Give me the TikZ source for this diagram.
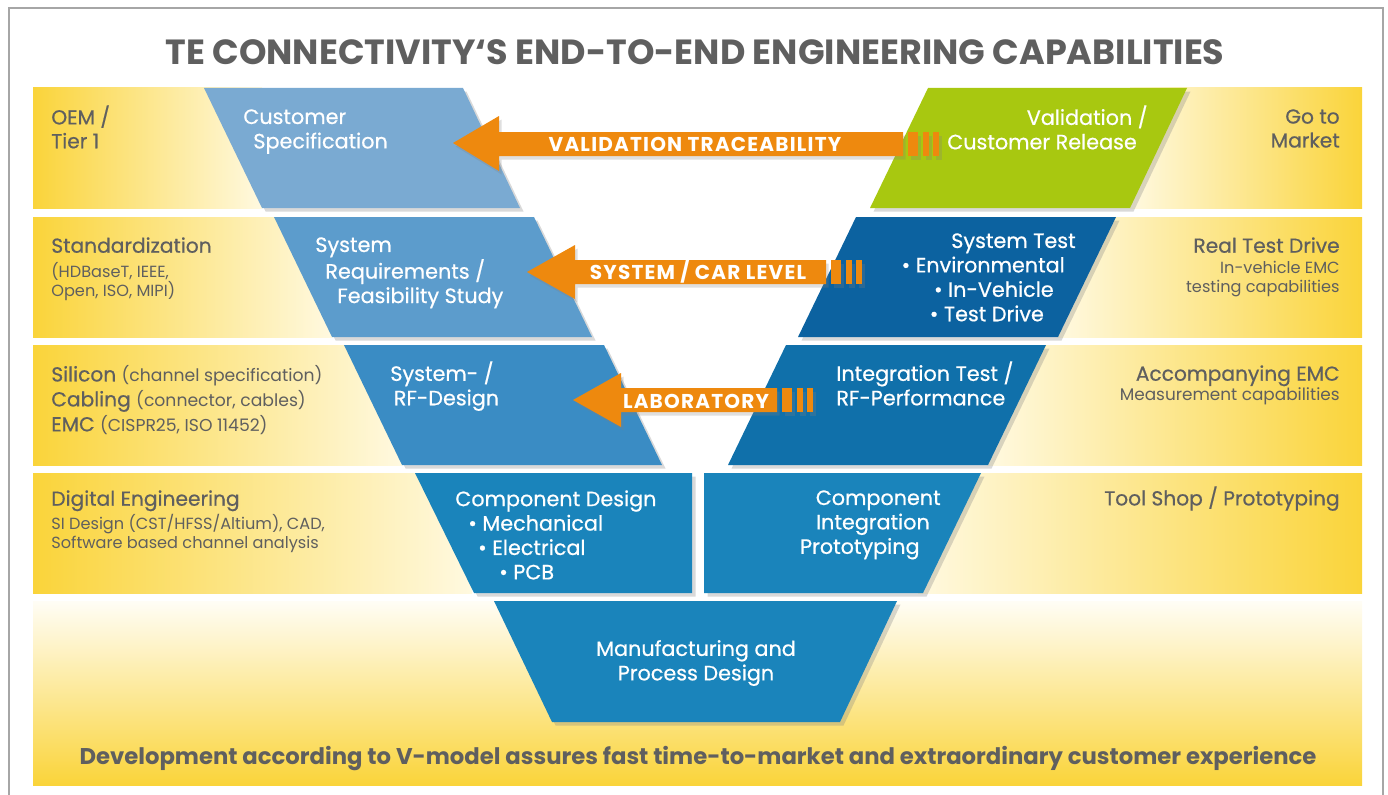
\documentclass[tikz,border=0pt]{standalone}
\usepackage{fontspec}
\setmainfont{Poppins}
\usetikzlibrary{shadows}

\definecolor{tegrey}{RGB}{95,95,95}
\definecolor{bandyellow}{RGB}{250,212,58}
\definecolor{bandpale}{RGB}{255,249,224}
\definecolor{arroworange}{RGB}{238,137,14}
\definecolor{relgreen}{RGB}{168,200,16}
\definecolor{specblue}{RGB}{122,170,210}
\definecolor{reqblue}{RGB}{92,156,204}
\definecolor{rfblue}{RGB}{58,140,196}
\definecolor{compblue}{RGB}{26,132,187}
\definecolor{testblue}{RGB}{12,98,160}
\definecolor{intblue}{RGB}{16,112,170}

\begin{document}
\begin{tikzpicture}[x=0.02cm,y=-0.02cm,
    box/.style={drop shadow={shadow xshift=2pt,shadow yshift=-2pt,opacity=0.3}},
    arrowfill/.style={fill=arroworange,drop shadow={shadow xshift=1.5pt,shadow yshift=-2pt,opacity=0.25}},
    intext/.style={text=white,inner sep=0pt,font=\fontsize{11.8}{13.9}\selectfont\addfontfeatures{FakeBold=0.6}},
    arrowtext/.style={text=white,inner sep=0pt,font=\bfseries\fontsize{11.4}{13}\selectfont\addfontfeatures{LetterSpace=6}},
    sidehead/.style={text=tegrey,inner sep=0pt,font=\fontsize{11.5}{13.6}\selectfont\addfontfeatures{FakeBold=0.6}},
    sidesub/.style={text=tegrey,inner sep=0pt,font=\fontsize{9.2}{11}\selectfont}]
  \useasboundingbox (0,0) rectangle (1388,794);
  \draw[gray!70,line width=1pt] (9,810) -- (9,8) -- (1383,8) -- (1383,810);

  \node[text=tegrey,font=\bfseries\fontsize{19.9}{22}\selectfont] (title) at (695,52)
    {TE CONNECTIVITY‘S END-TO-END ENGINEERING CAPABILITIES};

  % yellow bands, fading towards the V
  \foreach \t/\b/\l/\r in {88/208/262/1130,217/337/332/1058,345/465/402/988,473/593/472/918}{
    \shade[left color=bandyellow,right color=bandpale] (33,\t) rectangle (\l,\b);
    \shade[left color=bandpale,right color=bandyellow] (\r,\t) rectangle (1362,\b);
  }
  \shade[top color=bandpale!30!white,bottom color=bandyellow] (33,601) rectangle (1362,785);

  % left leg
  \fill[specblue,box] (204,88) -- (463,88) -- (520,208) -- (262,208) -- cycle;
  \fill[reqblue,box] (274,217) -- (534,217) -- (592,337) -- (332,337) -- cycle;
  \fill[rfblue,box] (344,345) -- (604,345) -- (662,465) -- (402,465) -- cycle;
  \fill[compblue,box] (415,473) -- (692,473) -- (692,593) -- (474,593) -- cycle;
  % right leg
  \fill[relgreen,box] (928,88) -- (1187,88) -- (1130,208) -- (870,208) -- cycle;
  \fill[testblue,box] (856,217) -- (1116,217) -- (1058,337) -- (798,337) -- cycle;
  \fill[intblue,box] (786,345) -- (1046,345) -- (988,465) -- (728,465) -- cycle;
  \fill[compblue,box] (704,473) -- (981,473) -- (923,593) -- (704,593) -- cycle;
  % bottom
  \fill[compblue,box] (494,601) -- (897,601) -- (840,722) -- (552,722) -- cycle;

  \node[intext,anchor=north west,align=left] (spec) at (243,109)
    {Customer\\\hspace*{5.7pt}Specification};
  \node[intext,anchor=north west,align=left] (req) at (315,237)
    {System\\\hspace*{5.7pt}Requirements /\\\hspace*{12.5pt}Feasibility Study};
  \node[intext,anchor=north west,align=left] (rf) at (390,361)
    {System- /\\\hspace*{2pt}RF-Design};
  \node[intext,anchor=north west,align=left] (comp) at (455,490)
    {Component Design\\\hspace*{7.4pt}• Mechanical\\\hspace*{13pt}• Electrical\\\hspace*{25pt}• PCB};
  \node[intext,anchor=north east,align=right] (release) at (1148,105)
    {Validation /\\Customer Release\rule{6.2pt}{0pt}};
  \node[intext,anchor=north east,align=right] (systest) at (1076,233)
    {System Test\\• Environmental\rule{6.2pt}{0pt}\\• In-Vehicle\rule{12.5pt}{0pt}\\• Test Drive\rule{18.1pt}{0pt}};
  \node[intext,anchor=north west,align=left] (inttest) at (836,361)
    {Integration Test /\\RF-Performance};
  \node[intext,anchor=north east,align=right] (compint) at (941,490)
    {Component\\Integration\rule{6.2pt}{0pt}\\Prototyping\rule{12pt}{0pt}};
  \node[intext,align=center] (manuf) at (696,663)
    {Manufacturing and\\Process Design};

  % orange traceability arrows
  \fill[arrowfill] (453,143) -- (499,116) -- (499,132) -- (903,132) -- (903,156) -- (499,156) -- (499,171) -- cycle;
  \foreach \a/\b in {908/918,923/929,933/939} \fill[arrowfill] (\a,132) rectangle (\b,156);
  \fill[arrowfill] (527,272) -- (575,245) -- (575,260) -- (826,260) -- (826,284) -- (575,284) -- (575,299) -- cycle;
  \foreach \a/\b in {831/841,846/852,856/862} \fill[arrowfill] (\a,260) rectangle (\b,284);
  \fill[arrowfill] (573,400) -- (621,373) -- (621,388) -- (777,388) -- (777,412) -- (621,412) -- (621,427) -- cycle;
  \foreach \a/\b in {782/792,797/803,807/813} \fill[arrowfill] (\a,388) rectangle (\b,412);
  \node[arrowtext] (trace) at (695,144) {VALIDATION TRACEABILITY};
  \node[arrowtext] (car) at (698,272) {SYSTEM / CAR LEVEL};
  \node[arrowtext] (lab) at (696,401) {LABORATORY};

  % side captions
  \node[sidehead,anchor=north west,align=left] (oem) at (51,105) {OEM /\\Tier 1};
  \node[sidehead,anchor=north west] (std) at (51,237) {Standardization};
  \node[sidesub,anchor=north west,align=left] (stdsub) at (51,262)
    {(HDBaseT, IEEE,\\Open, ISO, MIPI)};
  \node[sidehead,anchor=north west,align=left,font=\fontsize{11.5}{14.2}\selectfont] (silicon) at (51,365)
    {{\addfontfeatures{FakeBold=0.6}Silicon} {\fontsize{9.8}{14.2}\selectfont(channel specification)}\\
     {\addfontfeatures{FakeBold=0.6}Cabling} {\fontsize{9.8}{14.2}\selectfont(connector, cables)}\\
     {\addfontfeatures{FakeBold=0.6}EMC} {\fontsize{9.8}{14.2}\selectfont(CISPR25, ISO 11452)}};
  \node[sidehead,anchor=north west] (digital) at (51,490) {Digital Engineering};
  \node[sidesub,anchor=north west,align=left] (digsub) at (51,514)
    {SI Design (CST/HFSS/Altium), CAD,\\Software based channel analysis};

  \node[sidehead,anchor=north east,align=right] (market) at (1340,109) {Go to\\Market};
  \node[sidehead,anchor=north east] (drive) at (1340,237) {Real Test Drive};
  \node[sidesub,anchor=north east,align=right] (drivesub) at (1340,261)
    {In-vehicle EMC\\testing capabilities};
  \node[sidehead,anchor=north east] (emc) at (1340,365) {Accompanying EMC};
  \node[sidesub,anchor=north east,font=\fontsize{9.6}{11}\selectfont] (emcsub) at (1340,387) {Measurement capabilities};
  \node[sidehead,anchor=north east] (tool) at (1340,486) {Tool Shop / Prototyping};

  \node[text=tegrey,font=\bfseries\fontsize{12.95}{15}\selectfont] (vmodel) at (698,759)
    {Development according to V-model assures fast time-to-market and extraordinary customer experience};
\end{tikzpicture}
\end{document}
